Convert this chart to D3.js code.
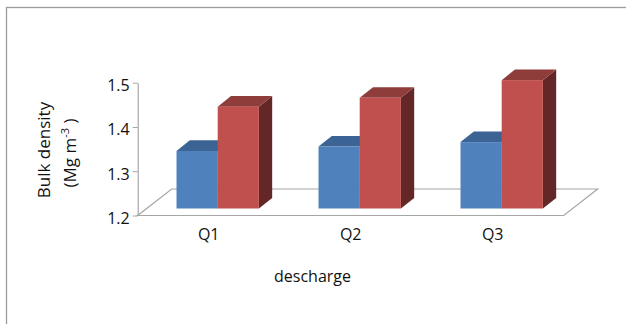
<!DOCTYPE html>
<html>
<head>
<meta charset="utf-8">
<script src="https://cdn.jsdelivr.net/npm/d3@7"></script>
<style>
  body { margin: 0; background: #fff; }
  svg { display: block; font-family: "Open Sans", sans-serif; }
</style>
</head>
<body>
<div id="chart"></div>
<script>
// data
const categories = ["Q1", "Q2", "Q3"];
const series = ["s1", "s2"];
const blueValues = [1.33, 1.34, 1.35];
const redValues = [1.43, 1.45, 1.49];
const yTicks = [1.2, 1.3, 1.4, 1.5];

const width = 626, height = 324;

const svg = d3.select("#chart").append("svg")
  .attr("width", width)
  .attr("height", height);

// outer frame
svg.append("rect")
  .attr("x", 6.5).attr("y", 7.5)
  .attr("width", 700).attr("height", 400)
  .attr("fill", "none")
  .attr("stroke", "#9b9b9b")
  .attr("stroke-width", 1.3);

// front plane scales
const x = d3.scaleBand().domain(categories).range([137.7, 563.7]);
const y = d3.scaleLinear().domain([1.2, 1.5]).range([215.5, 82.7]);

// 3d offsets: full floor depth, bar front offset, bar depth
const floorD = { dx: 34, dy: -26.5 };
const barOff = { dx: 9, dy: -7 };
const barD = { dx: 13.3, dy: -10.6 };

const groupW = x.bandwidth() * 0.58;
const xs = d3.scaleBand().domain(series)
  .range([(x.bandwidth() - groupW) / 2, (x.bandwidth() + groupW) / 2]);

// floor
const fy = y(1.2);
const [fx0, fx1] = x.range();
svg.append("polygon")
  .attr("points", [
    [fx0, fy], [fx1, fy],
    [fx1 + floorD.dx, fy + floorD.dy], [fx0 + floorD.dx, fy + floorD.dy]
  ].map(p => p.join(",")).join(" "))
  .attr("fill", "#fff")
  .attr("stroke", "#a6a6a6")
  .attr("stroke-width", 1.2);

// y axis
const yAxis = svg.append("g")
  .attr("transform", `translate(${fx0},0)`)
  .call(d3.axisLeft(y).tickValues(yTicks).tickFormat(d3.format(".1f"))
    .tickSize(5).tickSizeOuter(0).tickPadding(3));
yAxis.select(".domain").attr("stroke", "#a6a6a6").attr("stroke-width", 1.2);
yAxis.selectAll(".tick line").attr("stroke", "#a6a6a6");
yAxis.selectAll(".tick text")
  .attr("dy", "0.5em")
  .attr("fill", "#111")
  .style("font-size", "16px")
  .style("font-family", "'Open Sans', sans-serif");

// bars
const colors = {
  s1: { front: "#4f81bd", top: "#3b6494", side: "#2c4d74" },
  s2: { front: "#c0504d", top: "#8f3d3b", side: "#622726" }
};

const bars = [];
categories.forEach((c, i) => {
  bars.push({ cat: c, s: "s1", v: blueValues[i] });
  bars.push({ cat: c, s: "s2", v: redValues[i] });
});

const pts = arr => arr.map(p => p.join(",")).join(" ");

const g = svg.selectAll(".bar").data(bars).enter().append("g").attr("class", "bar");

g.each(function (d) {
  const sel = d3.select(this);
  const x0 = x(d.cat) + xs(d.s) + barOff.dx;
  const x1 = x0 + xs.bandwidth();
  const yt = y(d.v) + barOff.dy;
  const yb = y(1.2) + barOff.dy;
  const col = colors[d.s];
  // side
  sel.append("polygon")
    .attr("points", pts([[x1, yt], [x1 + barD.dx, yt + barD.dy], [x1 + barD.dx, yb + barD.dy], [x1, yb]]))
    .attr("fill", col.side);
  // top
  sel.append("polygon")
    .attr("points", pts([[x0, yt], [x1, yt], [x1 + barD.dx, yt + barD.dy], [x0 + barD.dx, yt + barD.dy]]))
    .attr("fill", col.top);
  // front
  sel.append("rect")
    .attr("x", x0).attr("y", yt)
    .attr("width", x1 - x0).attr("height", yb - yt)
    .attr("fill", col.front);
});

// category labels
svg.selectAll(".cat").data(categories).enter().append("text")
  .attr("class", "cat")
  .attr("x", d => x(d) + x.bandwidth() / 2)
  .attr("y", 240)
  .attr("text-anchor", "middle")
  .style("font-size", "16px")
  .attr("fill", "#111")
  .text(d => d);

// x title
svg.append("text")
  .attr("x", 312.5).attr("y", 282)
  .attr("text-anchor", "middle")
  .style("font-size", "16px")
  .attr("fill", "#111")
  .text("descharge");

// y title
svg.append("text")
  .attr("transform", "translate(50,150) rotate(-90)")
  .attr("text-anchor", "middle")
  .style("font-size", "17px")
  .attr("fill", "#111")
  .text("Bulk density");

const t2 = svg.append("text")
  .attr("transform", "translate(76,153) rotate(-90)")
  .attr("text-anchor", "middle")
  .style("font-size", "17px")
  .attr("fill", "#111");
t2.append("tspan").text("(Mg m");
t2.append("tspan").attr("dy", -7).style("font-size", "11px").text("-3");
t2.append("tspan").attr("dy", 7).text(" )");
</script>
</body>
</html>
